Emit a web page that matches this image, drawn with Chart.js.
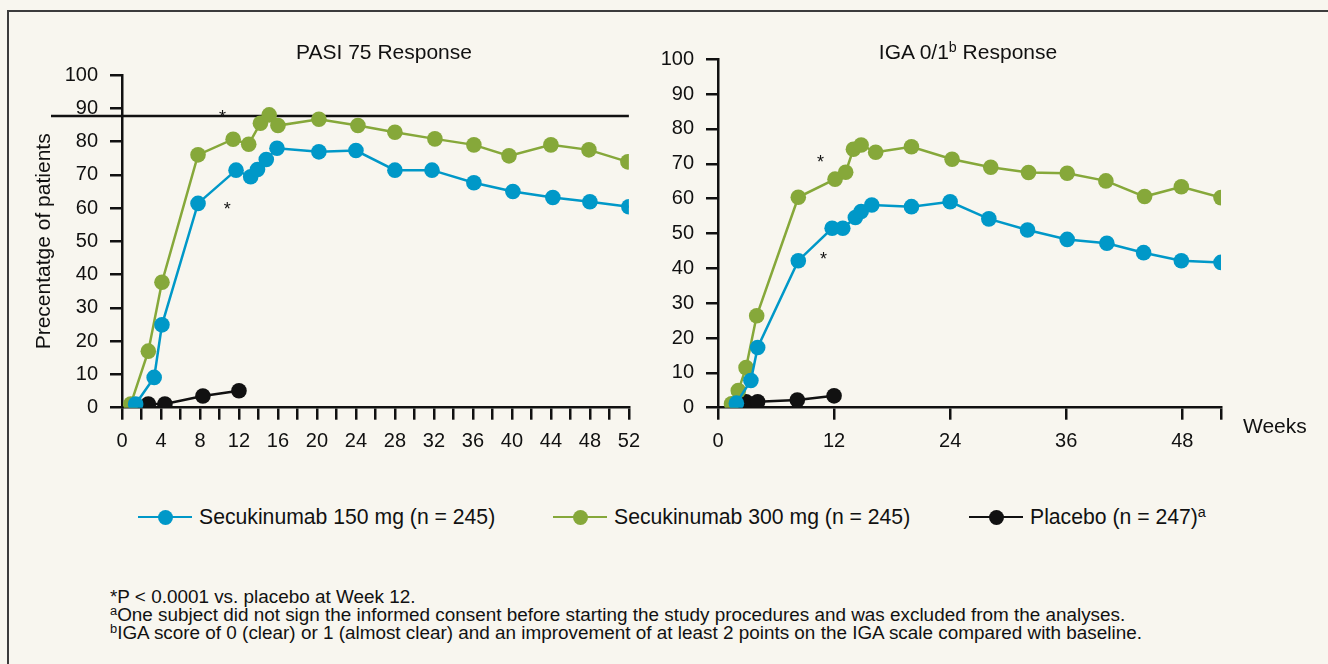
<!DOCTYPE html>
<html>
<head>
<meta charset="utf-8">
<script src="https://cdn.jsdelivr.net/npm/chart.js@4.4.1/dist/chart.umd.min.js"></script>
<style>
html,body{margin:0;padding:0;background:#f8f6ef;width:1328px;height:664px;overflow:hidden;
  font-family:"Liberation Sans",Arial,Helvetica,sans-serif;color:#111;}
#frame{position:absolute;left:7px;top:10px;width:1340px;height:680px;border-left:2px solid #3c3c3c;border-top:2px solid #3c3c3c;}
canvas{position:absolute;top:0;}
#c1{left:0;}
#c2{left:650px;}
.title{position:absolute;font-size:21px;transform:translate(-50%,-50%);white-space:nowrap;}
.weeks{position:absolute;font-size:21px;left:1243px;top:426px;transform:translateY(-50%);}
sup{font-size:0.68em;vertical-align:0.5em;line-height:0;}
.leg{position:absolute;top:517px;height:0;}
.leg .ln{position:absolute;top:-1.25px;height:2.5px;width:54px;left:0;}
.leg .dot{position:absolute;top:-7.5px;left:19.5px;width:15px;height:15px;border-radius:50%;}
.leg .tx{position:absolute;left:61px;top:0;transform:translateY(-50%);font-size:21.2px;white-space:nowrap;}
.notes{position:absolute;left:110px;top:588px;font-size:18.9px;line-height:18px;white-space:nowrap;}
.notes sup{font-size:0.68em;vertical-align:0.45em;}
</style>
</head>
<body>
<div id="frame"></div>
<canvas id="c1" width="650" height="470"></canvas>
<canvas id="c2" width="678" height="470"></canvas>
<div class="title" style="left:384px;top:52px;">PASI 75 Response</div>
<div class="title" style="left:968px;top:52px;">IGA 0/1<sup>b</sup> Response</div>
<div class="weeks">Weeks</div>
<div id="legend"></div>
<div class="notes">*P &lt; 0.0001 vs. placebo at Week 12.<br><sup>a</sup>One subject did not sign the informed consent before starting the study procedures and was excluded from the analyses.<br><sup>b</sup>IGA score of 0 (clear) or 1 (almost clear) and an improvement of at least 2 points on the IGA scale compared with baseline.</div>
<script>
// ---------- DATA ----------
const seriesNames = ['Secukinumab 150 mg (n = 245)', 'Secukinumab 300 mg (n = 245)', 'Placebo (n = 247)'];

// PASI 75 response (%)
const pasiWeeks150  = [1.4, 3.3, 4.1, 7.8, 11.7, 13.2, 13.9, 14.8, 15.9, 20.2, 24.0, 28.0, 31.8, 36.1, 40.1, 44.2, 48.0, 52.0];
const pasiValues150 = [1.1, 9.1, 24.9, 61.4, 71.4, 69.4, 71.6, 74.6, 78.0, 76.9, 77.3, 71.4, 71.4, 67.6, 65.0, 63.2, 61.9, 60.4];
const pasiWeeks300  = [0.9, 2.7, 4.1, 7.8, 11.4, 13.0, 14.2, 15.1, 16.0, 20.2, 24.2, 28.0, 32.1, 36.1, 39.7, 44.0, 47.9, 51.9];
const pasiValues300 = [1.1, 17.0, 37.7, 76.0, 80.7, 79.2, 85.5, 88.0, 84.8, 86.7, 84.8, 82.8, 80.8, 79.0, 75.7, 79.0, 77.5, 73.9];
const pasiWeeksPbo  = [2.7, 4.4, 8.3, 12.0];
const pasiValuesPbo = [1.1, 1.1, 3.5, 5.1];

// IGA 0/1 response (%)
const igaWeeks150  = [1.9, 3.4, 4.1, 8.3, 11.8, 12.9, 14.2, 14.8, 15.9, 20.0, 24.0, 28.0, 32.0, 36.1, 40.2, 44.0, 47.9, 52.0];
const igaValues150 = [1.3, 7.8, 17.3, 42.2, 51.5, 51.5, 54.6, 56.3, 58.2, 57.7, 59.1, 54.2, 51.0, 48.3, 47.2, 44.5, 42.2, 41.7];
const igaWeeks300  = [1.4, 2.1, 2.9, 4.0, 8.3, 12.1, 13.2, 14.0, 14.8, 16.3, 20.0, 24.2, 28.2, 32.1, 36.1, 40.1, 44.1, 47.9, 52.0];
const igaValues300 = [1.1, 4.9, 11.5, 26.4, 60.4, 65.6, 67.6, 74.2, 75.4, 73.3, 74.9, 71.3, 69.0, 67.5, 67.3, 65.1, 60.6, 63.4, 60.3];
const igaWeeksPbo  = [2.9, 4.1, 8.2, 12.0];
const igaValuesPbo = [1.7, 1.7, 2.2, 3.4];

// ticks
const yTickValues = [0, 10, 20, 30, 40, 50, 60, 70, 80, 90, 100];
const pasiXTickValues = [0,2,4,6,8,10,12,14,16,18,20,22,24,26,28,30,32,34,36,38,40,42,44,46,48,50,52];
const pasiXTickLabels = ['0','','4','','8','','12','','16','','20','','24','','28','','32','','36','','40','','44','','48','','52'];
const igaXTickValues = [0, 12, 24, 36, 48, 52];
const igaXTickLabels = ['0', '12', '24', '36', '48', ''];

// annotations
const pasiRefLine = 87.7;
const pasiStarWeeks = [10.3, 10.8];
const pasiStarValues = [88.6, 60.9];
const igaStarWeeks = [10.6, 10.9];
const igaStarValues = [71.8, 43.8];

// ---------- STYLE ----------
const FONT = '"Liberation Sans", Arial, Helvetica, sans-serif';
const COLORS = ['#0098c8', '#86a83a', '#111111'];
const INK = '#111111';

function pts(xs, ys){ return xs.map((x, i) => ({x: x, y: ys[i]})); }
function ds(label, data, color){
  return {label, data, borderColor: color, backgroundColor: color, pointBackgroundColor: color,
    pointBorderColor: color, pointRadius: 7.8, pointBorderWidth: 0, borderWidth: 2.5, tension: 0, fill: false};
}

const annotPlugin = {
  id: 'annot',
  beforeDatasetsDraw(chart, args, opts){
    if (opts.refLine == null) return;
    const {ctx, chartArea} = chart;
    const py = chart.scales.y.getPixelForValue(opts.refLine);
    ctx.save();
    ctx.strokeStyle = INK; ctx.lineWidth = 2.5;
    ctx.beginPath(); ctx.moveTo(chartArea.left - 71, py); ctx.lineTo(chartArea.right, py); ctx.stroke();
    ctx.restore();
  },
  afterDatasetsDraw(chart, args, opts){
    const {ctx} = chart;
    ctx.save();
    ctx.fillStyle = INK; ctx.font = '18px ' + FONT; ctx.textAlign = 'center'; ctx.textBaseline = 'alphabetic';
    (opts.starX || []).forEach((w, i) => {
      const px = chart.scales.x.getPixelForValue(w);
      const py = chart.scales.y.getPixelForValue(opts.starY[i]);
      ctx.fillText('*', px, py + 10);
    });
    ctx.restore();
  }
};

function makeOptions(cfg){
  const tickFont = {size: 20, family: FONT};
  return {
    responsive: false, animation: false, events: [],
    layout: {padding: {left: 0, top: cfg.top, right: cfg.right, bottom: 0}},
    plugins: {legend: {display: false}, tooltip: {enabled: false}, title: {display: false},
      annot: {refLine: cfg.refLine, starX: cfg.starX, starY: cfg.starY}},
    scales: {
      x: {type: 'linear', min: 0, max: 52,
        afterBuildTicks: s => { s.ticks = cfg.xTicks.map(v => ({value: v})); },
        afterFit: s => { s.height = cfg.xHeight; },
        ticks: {autoSkip: false, maxRotation: 0, minRotation: 0, padding: 10, color: INK, font: tickFont,
          callback: (v, i) => cfg.xLabels[i]},
        grid: {drawOnChartArea: false, drawTicks: true, tickLength: 12, color: INK, lineWidth: 2.5},
        border: {display: true, color: INK, width: 2.5}},
      y: {type: 'linear', min: 0, max: 100,
        afterBuildTicks: s => { s.ticks = yTickValues.map(v => ({value: v})); },
        afterFit: s => { s.width = cfg.yWidth; },
        ticks: {padding: 12, color: INK, font: tickFont, callback: v => String(v)},
        grid: {drawOnChartArea: false, drawTicks: true, tickLength: 12, color: INK, lineWidth: 2.5},
        border: {display: true, color: INK, width: 2.5},
        title: cfg.yTitle ? {display: true, text: cfg.yTitle, color: INK, font: {size: 21, family: FONT},
          padding: {top: 32, bottom: 0}} : {display: false}}
    }
  };
}

new Chart(document.getElementById('c1'), {
  type: 'line',
  data: {datasets: [
    ds(seriesNames[0], pts(pasiWeeks150, pasiValues150), COLORS[0]),
    ds(seriesNames[1], pts(pasiWeeks300, pasiValues300), COLORS[1]),
    ds(seriesNames[2], pts(pasiWeeksPbo, pasiValuesPbo), COLORS[2])
  ]},
  options: makeOptions({top: 75, right: 17, xHeight: 62.3, yWidth: 122,
    xTicks: pasiXTickValues, xLabels: pasiXTickLabels, yTitle: 'Precentatge of patients',
    refLine: pasiRefLine, starX: pasiStarWeeks, starY: pasiStarValues}),
  plugins: [annotPlugin]
});

new Chart(document.getElementById('c2'), {
  type: 'line',
  data: {datasets: [
    ds(seriesNames[0], pts(igaWeeks150, igaValues150), COLORS[0]),
    ds(seriesNames[1], pts(igaWeeks300, igaValues300), COLORS[1]),
    ds(seriesNames[2], pts(igaWeeksPbo, igaValuesPbo), COLORS[2])
  ]},
  options: makeOptions({top: 59.3, right: 107, xHeight: 62.3, yWidth: 68,
    xTicks: igaXTickValues, xLabels: igaXTickLabels, yTitle: null,
    refLine: null, starX: igaStarWeeks, starY: igaStarValues}),
  plugins: [annotPlugin]
});

// HTML legend
const legendLeft = [138, 553, 969];
const legendSup = ['', '', 'a'];
const legendEl = document.getElementById('legend');
seriesNames.forEach((name, i) => {
  const d = document.createElement('div');
  d.className = 'leg';
  d.style.left = legendLeft[i] + 'px';
  d.innerHTML = '<div class="ln" style="background:' + COLORS[i] + '"></div>' +
    '<div class="dot" style="background:' + COLORS[i] + '"></div>' +
    '<div class="tx">' + name + (legendSup[i] ? '<sup>' + legendSup[i] + '</sup>' : '') + '</div>';
  legendEl.appendChild(d);
});
</script>
</body>
</html>
